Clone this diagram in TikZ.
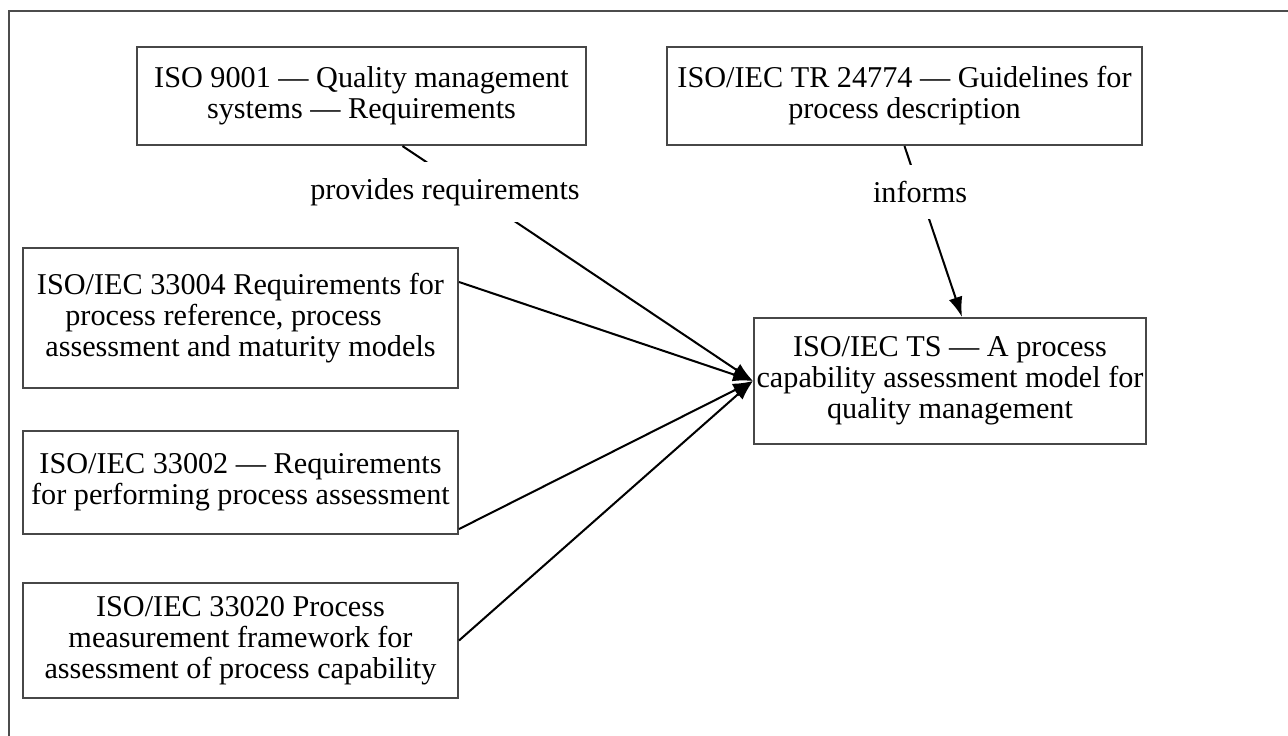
\documentclass[tikz,border=0pt]{standalone}
\usepackage{fontspec}
\setmainfont{Liberation Serif}
\usetikzlibrary{arrows.meta}

\begin{document}
\begin{tikzpicture}[x=0.02cm,y=-0.02cm,
        stdbox/.style={draw=black!72,line width=1.2pt,align=center,inner sep=0pt,
            font=\fontsize{17.2}{17.6}\selectfont},
        lbl/.style={fill=white,inner xsep=4pt,inner ysep=0.32cm,
            font=\fontsize{17.2}{17.6}\selectfont},
        conn/.style={-{Latex[length=0.4cm,width=0.28cm]},line width=1.15pt}]
        \useasboundingbox (0,0) rectangle (1288,736);
        \draw[black!70,line width=1.5pt] (1288,11) -- (9,11) -- (9,736);
        % standards
        \node[stdbox,minimum width=8.98cm,minimum height=1.96cm] (iso9001) at (361.5,96) {ISO 9001 — Quality management\\systems — Requirements};
        \node[stdbox,minimum width=9.5cm,minimum height=1.96cm] (tr24774) at (904.5,96) {ISO/IEC TR 24774 — Guidelines for\\process description};
        \node[stdbox,minimum width=8.7cm,minimum height=2.8cm] (iso33004) at (240.5,318) {ISO/IEC 33004 Requirements for\\process reference, process\makebox[0.68cm]{}\\assessment and maturity models};
        \node[stdbox,minimum width=8.7cm,minimum height=2.06cm] (iso33002) at (240.5,482.5) {ISO/IEC 33002 — Requirements\\for performing process assessment};
        \node[stdbox,minimum width=8.7cm,minimum height=2.3cm] (iso33020) at (240.5,640.5) {ISO/IEC 33020 Process\\measurement framework for\\assessment of process capability};
        \node[stdbox,minimum width=7.84cm,minimum height=2.52cm] (ts) at (950,381) {ISO/IEC TS — A process\\capability assessment model for\\quality management};
        % connectors
        \draw[conn] ([xshift=0.82cm]iso9001.south) -- (ts.west);
        \draw[conn] ([yshift=0.72cm]iso33004.east) -- (ts.west);
        \draw[conn] ([yshift=0.12cm]iso33002.south east) -- (ts.west);
        \draw[conn] (iso33020.east) -- (ts.west);
        \draw[conn] (tr24774.south) -- ([xshift=0.24cm]ts.north);
        \node[lbl] (provides) at (445,192) {provides requirements};
        \node[lbl] (informs) at (920,192) {informs};
    \end{tikzpicture}
\end{document}
